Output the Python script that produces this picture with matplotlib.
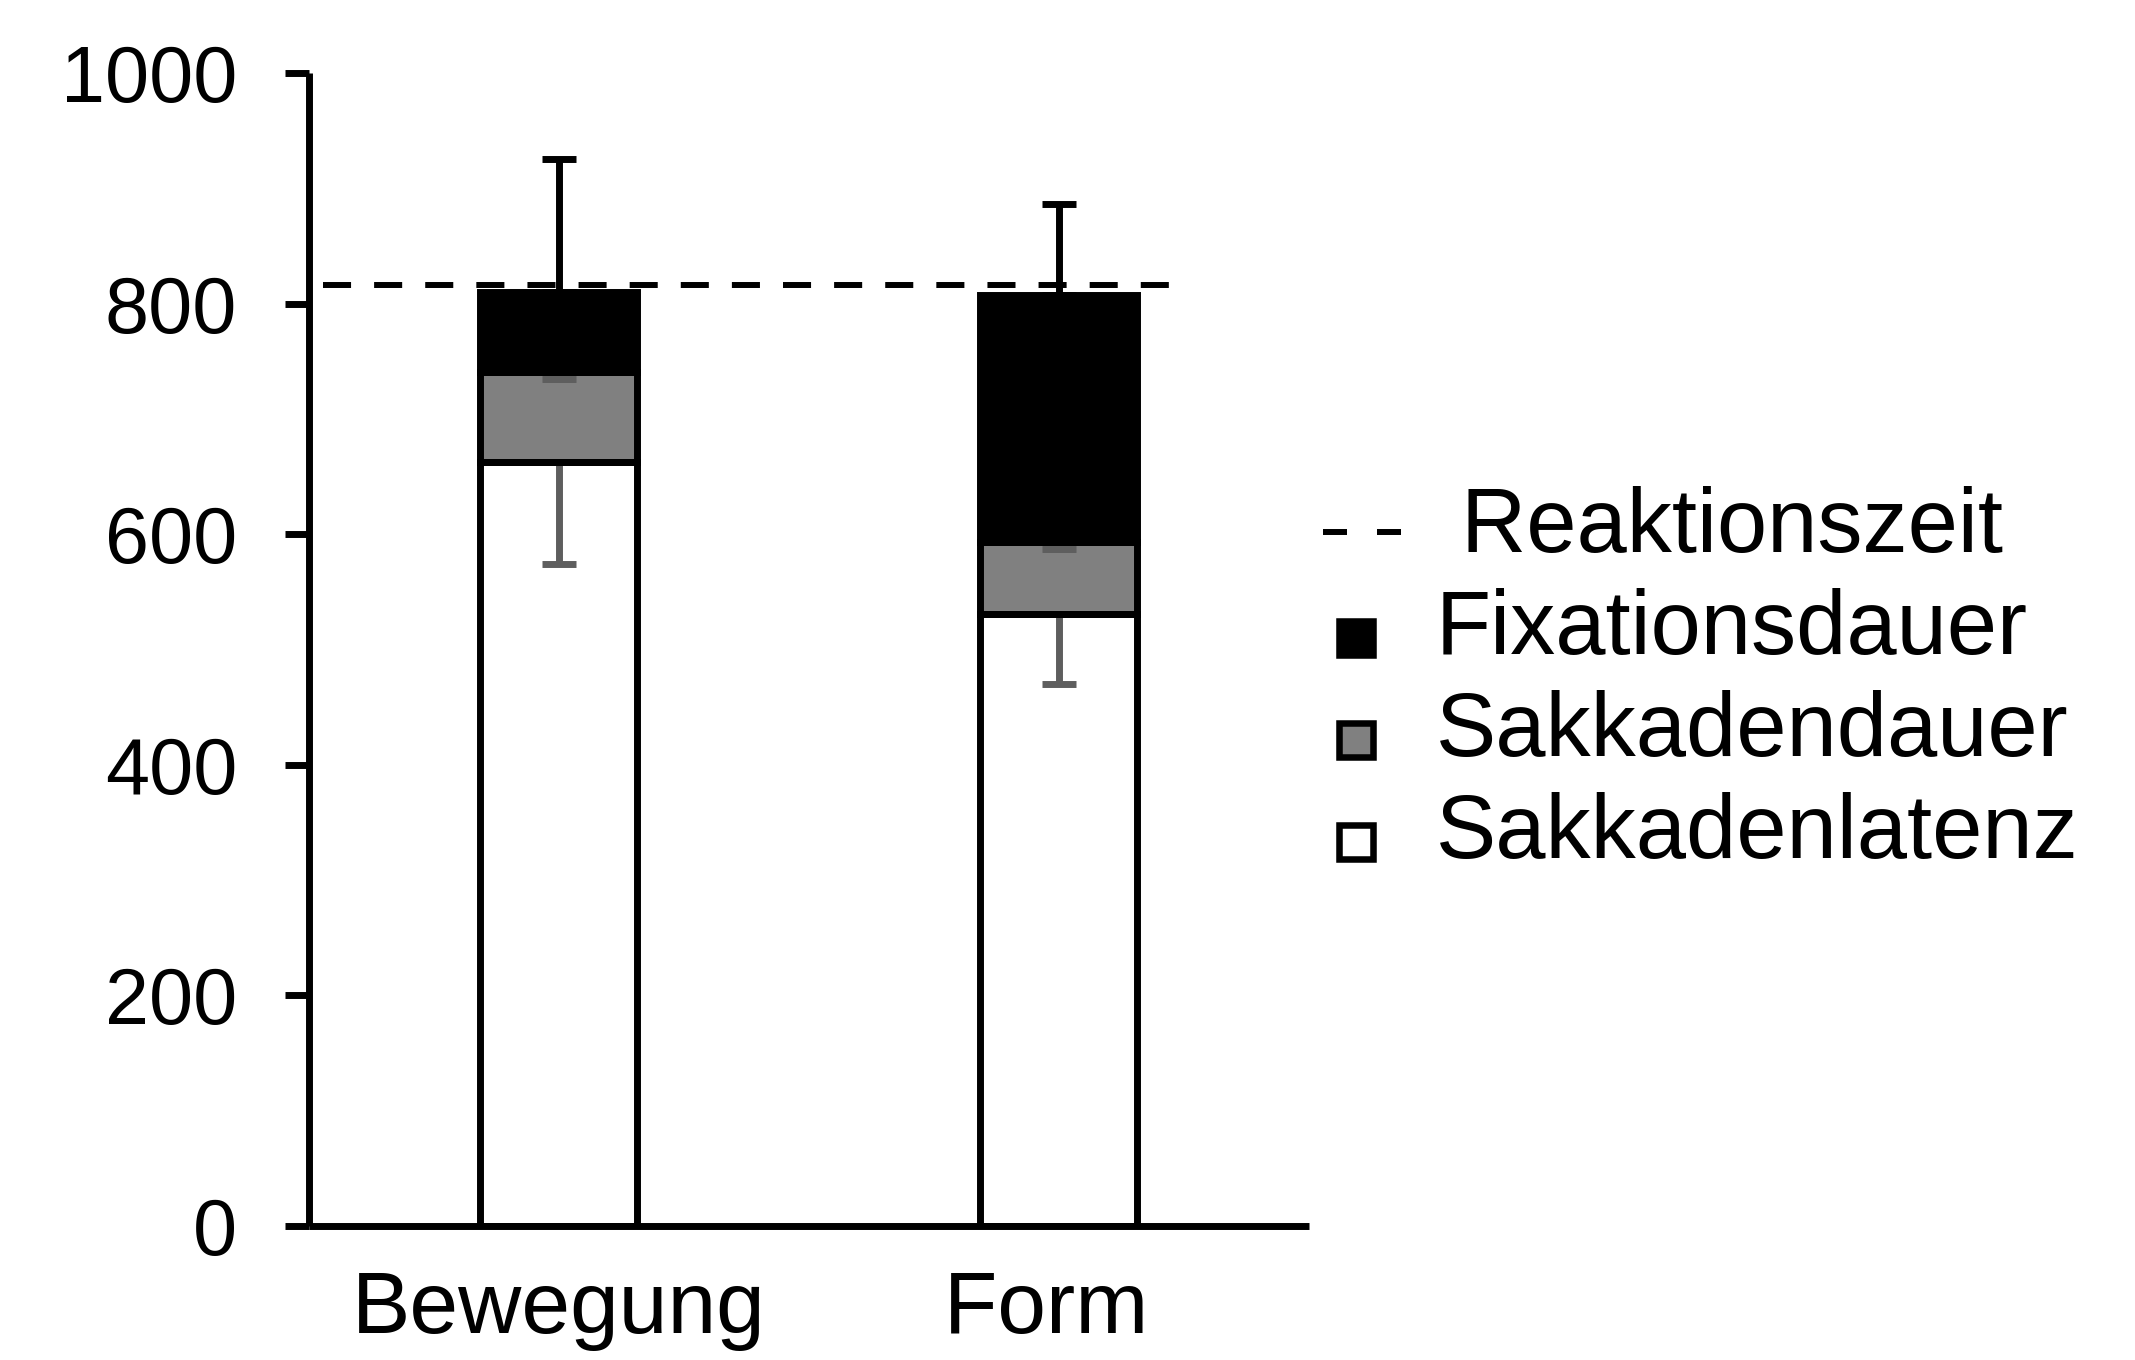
import matplotlib
matplotlib.use("Agg")
import matplotlib.pyplot as plt
from matplotlib.lines import Line2D
import numpy as np

plt.rcParams["font.family"] = ["Liberation Sans", "DejaVu Sans"]

# --- data (ms) ---
conditions = ["Bewegung", "Form "]
sakkadenlatenz = [663, 531]
sakkadendauer = [78, 62]
fixationsdauer = [69, 215]
err_latenz = [89, 61]
err_sakkade = [6.5, 6]
err_total = [116, 79]
reaktionszeit = 816

legend_labels = [" Reaktionszeit", "Fixationsdauer", "Sakkadendauer", "Sakkadenlatenz"]

W, H = 2135, 1360
fig = plt.figure(figsize=(W / 100, H / 100), dpi=100)
ax = fig.add_axes([308.5 / W, 1 - 1225.5 / H, 1000 / W, 1152 / H])

x = np.arange(len(conditions))
bw = 0.315
lw = 5
grey = "#808080"
errc = "#5e5e5e"

lat = np.array(sakkadenlatenz)
sak = np.array(sakkadendauer)
fix = np.array(fixationsdauer)

# fills first, error bars, then outlines on top
ax.bar(x, lat, bw, color="white", zorder=1)
ax.bar(x, sak, bw, bottom=lat, color=grey, zorder=1)
ax.bar(x, fix, bw, bottom=lat + sak, color="black", zorder=1)

eb = dict(fmt="none", elinewidth=lw, capsize=12, capthick=lw, zorder=2)
ax.errorbar(x, lat, yerr=[err_latenz, np.zeros(2)], ecolor=errc, **eb)
ax.errorbar(x, lat + sak, yerr=[err_sakkade, np.zeros(2)], ecolor=errc, **eb)
ax.errorbar(x, lat + sak + fix, yerr=[np.zeros(2), err_total], ecolor="black", **eb)

for bottom, h in [(0, lat), (lat, sak), (lat + sak, fix)]:
    ax.bar(x, h, bw, bottom=bottom, facecolor="none", edgecolor="black",
           linewidth=lw, zorder=3)

dash_lw = 4.3
ax.hlines(reaktionszeit, -0.471, 1.252, colors="black", linewidth=dash_lw,
          linestyles=(0, (20.2 / dash_lw, 16.6 / dash_lw)), zorder=4)

ax.set_xlim(-0.5, 1.5)
ax.set_ylim(0, 1000)
ax.set_yticks(np.arange(0, 1001, 200))
ax.set_xticks(x)
ax.set_xticklabels(conditions)
for s in ["top", "right"]:
    ax.spines[s].set_visible(False)
for s in ["left", "bottom"]:
    ax.spines[s].set_linewidth(lw)
    ax.spines[s].set_capstyle("butt")
ax.tick_params(axis="y", direction="out", length=17.3, width=lw, pad=34,
               labelsize=57)
ax.tick_params(axis="x", length=0, pad=32, labelsize=63)

# --- legend (drawn by hand to match the layout) ---
tx = 1436
baselines = [552, 654, 756, 858]
for lab, yb in zip(legend_labels, baselines):
    fig.text(tx / W, 1 - yb / H, lab, fontsize=65, ha="left", va="baseline")

fig.add_artist(Line2D([1323 / W, 1402 / W], [1 - 532 / H] * 2,
                      transform=fig.transFigure, color="black", linewidth=dash_lw,
                      linestyle=(0, (24 * 0.72 / dash_lw, 30 * 0.72 / dash_lw))))
for fc, yb in zip(["black", grey, "white"], baselines[1:]):
    fig.add_artist(Line2D([1356 / W], [1 - (yb - 16) / H], transform=fig.transFigure,
                          marker="s", markersize=24, markerfacecolor=fc,
                          markeredgecolor="black", markeredgewidth=4.7,
                          linestyle="none"))

fig.savefig("out.png", dpi=100)
